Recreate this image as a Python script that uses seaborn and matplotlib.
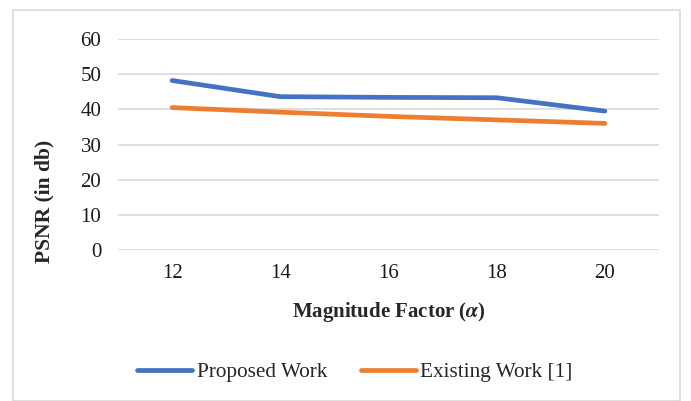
import numpy as np
import pandas as pd
import matplotlib
matplotlib.use("Agg")
import matplotlib.pyplot as plt
from matplotlib.patches import Rectangle
import seaborn as sns

sns.set_theme(style="white")
plt.rcParams['font.family'] = ['Liberation Serif', 'DejaVu Serif']
plt.rcParams['mathtext.fontset'] = 'stix'

# data
factors = ["12", "14", "16", "18", "20"]
proposed = [48.2, 43.6, 43.4, 43.3, 39.5]
existing = [40.5, 39.2, 38.0, 37.0, 36.0]
series_names = ["Proposed Work", "Existing Work [1]"]
colors = ["#4472C4", "#ED7D31"]

df = pd.DataFrame({
    "factor": factors * 2,
    "psnr": proposed + existing,
    "series": [series_names[0]] * len(factors) + [series_names[1]] * len(factors),
})
df["pos"] = np.tile(np.arange(len(factors)), 2)

fig = plt.figure(figsize=(6.91, 4.01), dpi=100)
ax = fig.add_axes([118 / 691, 1 - 250 / 401, (659 - 118) / 691, (250 - 39) / 401])

sns.lineplot(data=df, x="pos", y="psnr", hue="series", palette=colors,
             linewidth=3.4, ax=ax, legend=False, solid_capstyle="round")

ax.set_xlim(-0.5, len(factors) - 0.5)
ax.set_ylim(0, 60)
ax.set_yticks(range(0, 61, 10))
ax.set_xticks(range(len(factors)))
ax.set_xticklabels(factors)
ax.grid(axis="y", color="#D9D9D9", linewidth=1.2)
ax.set_axisbelow(True)
for s in ax.spines.values():
    s.set_visible(False)
ax.tick_params(axis="y", length=0, pad=12, labelsize=15, labelcolor="#1a1a1a")
ax.tick_params(axis="x", length=0, pad=10, labelsize=15, labelcolor="#1a1a1a")

ax.set_xlabel(r"Magnitude Factor ($\boldsymbol{\alpha}$)", fontsize=15, fontweight="bold",
              labelpad=12)
ax.set_ylabel("PSNR (in db)", fontsize=15.5, fontweight="bold")
# Excel centres the title on the plot area incl. category labels
ax.yaxis.set_label_coords(-0.117, 0.232)

handles = [plt.Line2D([], [], color=c, linewidth=3.4, solid_capstyle="round") for c in colors]
fig.legend(handles, series_names, loc="center", bbox_to_anchor=(355 / 691, 1 - 372 / 401),
           ncol=2, frameon=False, fontsize=15.3, handlelength=2.6, handletextpad=0.2,
           columnspacing=1.6)

fig.patches.append(Rectangle((13 / 691, 0), 667 / 691, 1 - 10 / 401, transform=fig.transFigure,
                             fill=False, edgecolor="#D9D9D9", linewidth=1.2))

fig.savefig("out.png", dpi=100)
